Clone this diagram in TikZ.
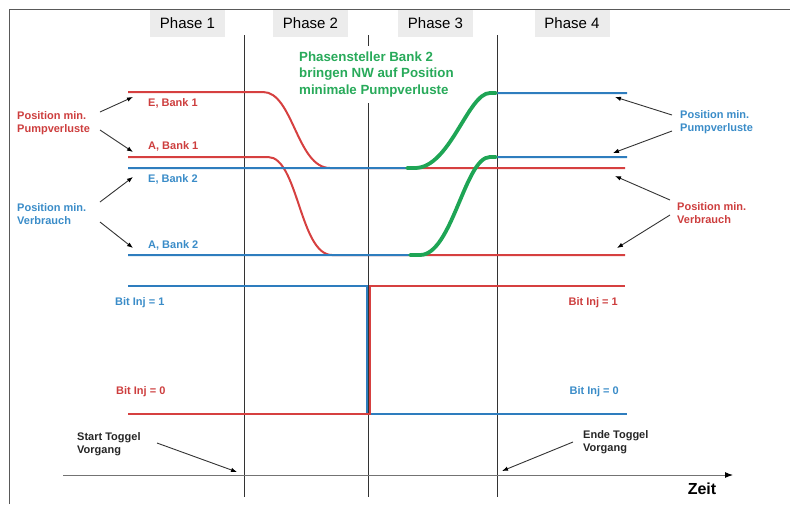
\documentclass[tikz,border=0pt]{standalone}
\usepackage{fontspec}
\setmainfont{Liberation Sans}
\usetikzlibrary{arrows.meta}
\definecolor{lred}{RGB}{214,64,64}
\definecolor{tred}{RGB}{205,62,62}
\definecolor{lblue}{RGB}{46,125,190}
\definecolor{tblue}{RGB}{58,140,200}
\definecolor{lgreen}{RGB}{30,165,85}
\definecolor{tgreen}{RGB}{40,170,90}
\definecolor{boxgray}{RGB}{236,236,236}
\tikzset{
  phasebox/.style={fill=boxgray, minimum width=75pt, minimum height=27pt, inner sep=0pt, font=\fontsize{15}{17}\selectfont},
  lbl/.style={inner sep=0pt, font=\bfseries\fontsize{11}{13}\selectfont, align=left},
  vline/.style={draw=black!80, line width=0.9pt},
  sigred/.style={draw=lred, line width=2pt},
  sigblue/.style={draw=lblue, line width=2pt},
  siggreen/.style={draw=lgreen, line width=3.8pt, line cap=round},
  pointer/.style={draw=black!80, line width=0.9pt, -{Latex[length=6pt,width=4.5pt,color=black]}},
}
\begin{document}
\begin{tikzpicture}[x=1pt,y=-1pt]
\useasboundingbox (0,0) rectangle (790,504);
% frame
\draw[black!65, line width=1pt] (9,504) -- (9,9) -- (790,9);
% phase labels
\node[phasebox] (p1) at (187.5,23.5) {Phase 1};
\node[phasebox] (p2) at (310.5,23.5) {Phase 2};
\node[phasebox] (p3) at (435.5,23.5) {Phase 3};
\node[phasebox] (p4) at (572,23.5) {Phase 4};
% vertical phase lines
\draw[vline] (244,35) -- (244,497);
\draw[vline] (368,35) -- (368,497);
\draw[vline] (497,35) -- (497,497);
% green annotation (covers line)
\node[fill=white, inner sep=0pt, minimum height=57pt, anchor=west, font=\bfseries\fontsize{13.3}{16.5}\selectfont, text=tgreen, align=left] (gtxt) at (299,74.5) {Phasensteller Bank 2\\bringen NW auf Position\\minimale Pumpverluste};
% time axis
\coordinate (ax0) at (63,475);
\coordinate (ax1) at (733,475);
\draw[black!55, line width=1pt, -{Latex[length=8pt,width=6pt,color=black]}] (ax0) -- (ax1);
\node[inner sep=0pt, font=\bfseries\fontsize{16}{18}\selectfont] (zeit) at (702,489) {Zeit};
% cam positions: red
\draw[sigred] (128,92) -- (263,92) .. controls (293,92) and (297,168) .. (330,168) -- (625,168);
\draw[sigred] (128,157) -- (268,157) .. controls (298,157) and (300,255) .. (332,255) -- (625,255);
% blue
\draw[sigblue] (128,168) -- (415,168) .. controls (450,168) and (468,93) .. (490,93) -- (627,93);
\draw[sigblue] (128,255) -- (420,255) .. controls (452,255) and (465,157) .. (490,157) -- (627,157);
% green overlay
\draw[siggreen] (407,168) -- (415,168) .. controls (450,168) and (468,93) .. (490,93) -- (496,93);
\draw[siggreen] (410,255) -- (420,255) .. controls (452,255) and (465,157) .. (490,157) -- (496,157);
% bit inj
\draw[sigblue] (128,286) -- (367,286) -- (367,414) -- (627,414);
\draw[sigred] (128,414) -- (369.5,414) -- (369.5,286) -- (625,286);
% labels on lines
\node[lbl, text=tred, anchor=west] (eb1) at (148,103) {E, Bank 1};
\node[lbl, text=tred, anchor=west] (ab1) at (148,146) {A, Bank 1};
\node[lbl, text=tblue, anchor=west] (eb2) at (148,179) {E, Bank 2};
\node[lbl, text=tblue, anchor=west] (ab2) at (148,245) {A, Bank 2};
\node[lbl, text=tred, anchor=west] (lpump) at (17,123.5) {Position min.\\Pumpverluste};
\node[lbl, text=tblue, anchor=west] (lverb) at (17,214.5) {Position min.\\Verbrauch};
\node[lbl, text=tblue, anchor=west] (rpump) at (680,122.5) {Position min.\\Pumpverluste};
\node[lbl, text=tred, anchor=west] (rverb) at (677,213.5) {Position min.\\Verbrauch};
\node[lbl, text=tblue, anchor=west] (bl1) at (115,303) {Bit Inj = 1};
\node[lbl, text=tred, anchor=west] (bl0) at (116,392) {Bit Inj = 0};
\node[lbl, text=tred, anchor=east] (br1) at (618,303) {Bit Inj = 1};
\node[lbl, text=tblue, anchor=east] (br0) at (619,392) {Bit Inj = 0};
\node[lbl, text=black!85, anchor=west] (start) at (77,444) {Start Toggel\\Vorgang};
\node[lbl, text=black!85, anchor=west] (ende) at (583,442) {Ende Toggel\\Vorgang};
% pointer coordinates
\coordinate (l1s) at (100,112); \coordinate (l1e) at (133,97);
\coordinate (l2s) at (100,130); \coordinate (l2e) at (133,152);
\coordinate (l3s) at (100,202); \coordinate (l3e) at (133,177);
\coordinate (l4s) at (100,222); \coordinate (l4e) at (133,248);
\coordinate (r1s) at (672,115); \coordinate (r1e) at (615,97);
\coordinate (r2s) at (672,131); \coordinate (r2e) at (613,153);
\coordinate (r3s) at (670,200); \coordinate (r3e) at (615,176);
\coordinate (r4s) at (670,215); \coordinate (r4e) at (617,248);
\coordinate (ss) at (157,443); \coordinate (se) at (237,472);
\coordinate (es) at (573,442); \coordinate (ee) at (502,471);
\draw[pointer] (l1s) -- (l1e);
\draw[pointer] (l2s) -- (l2e);
\draw[pointer] (l3s) -- (l3e);
\draw[pointer] (l4s) -- (l4e);
\draw[pointer] (r1s) -- (r1e);
\draw[pointer] (r2s) -- (r2e);
\draw[pointer] (r3s) -- (r3e);
\draw[pointer] (r4s) -- (r4e);
\draw[pointer] (ss) -- (se);
\draw[pointer] (es) -- (ee);
\end{tikzpicture}
\end{document}
